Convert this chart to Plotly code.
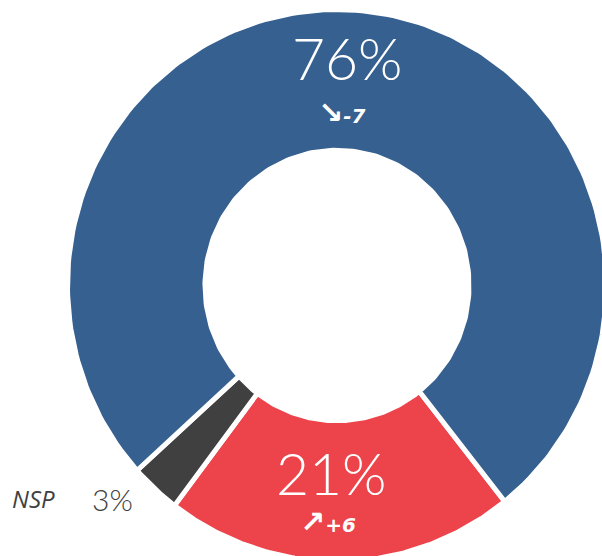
import numpy as np
import plotly.graph_objects as go

# ---- data ----
categories = ["Réponse A", "NSP", "Réponse B"]   # clockwise from the bottom slice
values = [21, 3, 76]                               # percent
changes = ["+6", None, "-7"]
value_labels = ["21%", "3%", "76%"]
colors = ["#EC444A", "#404040", "#36608F"]

# ---- geometry (donut drawn through cartesian axes) ----
start_deg = 141.5      # clockwise from 12 o'clock
r_out, r_in = 1.0, 0.49

fig = go.Figure()
total = sum(values)
ang = start_deg
for cat, v, c in zip(categories, values, colors):
    span = 360.0 * v / total
    t = np.radians(np.linspace(ang, ang + span, 200))
    xo, yo = r_out * np.sin(t), r_out * np.cos(t)
    xi, yi = r_in * np.sin(t[::-1]), r_in * np.cos(t[::-1])
    xs = np.concatenate([xo, xi, xo[:1]])
    ys = np.concatenate([yo, yi, yo[:1]])
    fig.add_trace(go.Scatter(x=xs, y=ys, mode="lines", fill="toself",
                             fillcolor=c, line=dict(color="white", width=5),
                             name=cat, hoverinfo="name"))
    ang += span

W, H = 602, 556
cx, cy = 337.0, 285.5
sx, sy = 269.5, 276.0

def px(x, y):
    return (x - cx) / sx, (cy - y) / sy

big = dict(family="Lato, Open Sans, sans-serif", size=57, color="white", weight=300)
small = dict(family="DejaVu Sans, sans-serif", size=20, color="white")

def delta_text(arrow, d):
    return "<b><i><span style='font-size:30px'>%s</span>%s</i></b>" % (arrow, d)

annots = [
    (value_labels[2], 347.5, 57.5, big),
    (delta_text("↘", changes[2]), 341, 112, small),
    (value_labels[0], 331.5, 472.5, big),
    (delta_text("↗", changes[0]), 328, 521, small),
    ("<i>" + categories[1] + "</i>", 33.5, 498, dict(family="Open Sans, sans-serif", size=24, color="#404040")),
    (value_labels[1], 112, 498.5, dict(family="Lato, Open Sans, sans-serif", size=30, color="#404040", weight=300)),
]
for text, x, y, f in annots:
    ax, ay = px(x, y)
    fig.add_annotation(x=ax, y=ay, xref="x", yref="y", text=text, showarrow=False,
                       font=f, xanchor="center", yanchor="middle", borderpad=0)

fig.update_layout(
    width=W, height=H, margin=dict(l=0, r=0, t=0, b=0),
    paper_bgcolor="white", plot_bgcolor="white", showlegend=False,
    xaxis=dict(range=[(0 - cx) / sx, (W - cx) / sx], visible=False, fixedrange=True),
    yaxis=dict(range=[(cy - H) / sy, cy / sy], visible=False, fixedrange=True),
)
fig.write_html("out.html", config={"displayModeBar": False},
               post_script="document.body.style.margin='0';")
